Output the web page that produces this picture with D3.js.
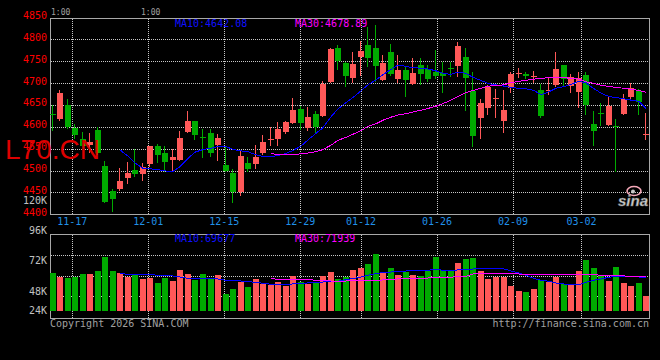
<!DOCTYPE html>
<html>
<head>
<meta charset="utf-8">
<script src="https://cdn.jsdelivr.net/npm/d3@7"></script>
<style>
    html, body { margin: 0; padding: 0; background: #000; }
    svg { display: block; }
    text { font-family: "DejaVu Sans Mono", monospace; font-size: 10px; }
</style>
</head>
<body>
<svg id="chart" width="660" height="360"></svg>
<script>
const dates = [
    '11-12', '11-13', '11-14', '11-17', '11-18', '11-19', '11-20', '11-21', '11-24', '11-25',
    '11-26', '11-27', '11-28', '12-01', '12-02', '12-03', '12-04', '12-05', '12-08', '12-09',
    '12-10', '12-11', '12-12', '12-15', '12-16', '12-17', '12-18', '12-19', '12-22', '12-23',
    '12-24', '12-25', '12-26', '12-29', '12-30', '12-31', '01-05', '01-06', '01-07', '01-08',
    '01-09', '01-12', '01-13', '01-14', '01-15', '01-16', '01-19', '01-20', '01-21', '01-22',
    '01-23', '01-26', '01-27', '01-28', '01-29', '01-30', '02-02', '02-03', '02-04', '02-05',
    '02-06', '02-09', '02-10', '02-11', '02-12', '02-13', '02-24', '02-25', '02-26', '02-27',
    '03-02', '03-03', '03-04', '03-05', '03-06', '03-09', '03-10', '03-11', '03-12', '03-13',
];
const open = [
    4629, 4618, 4650, 4597, 4571, 4559, 4593, 4510, 4453, 4458,
    4483, 4501, 4493, 4515, 4556, 4541, 4525, 4524, 4589, 4613,
    4577, 4586, 4558, 4513, 4494, 4450, 4518, 4515, 4541, 4571,
    4573, 4587, 4609, 4641, 4598, 4629, 4625, 4703, 4781, 4746,
    4712, 4760, 4787, 4781, 4707, 4771, 4709, 4730, 4698, 4741,
    4732, 4726, 4722, 4735, 4739, 4760, 4681, 4621, 4644, 4663,
    4614, 4688, 4722, 4721, 4714, 4684, 4681, 4696, 4741, 4693,
    4680, 4719, 4607, 4631, 4604, 4601, 4629, 4667, 4682, 4582,
];
const high = [
    4650, 4684, 4664, 4606, 4588, 4586, 4600, 4522, 4457, 4505,
    4520, 4549, 4517, 4556, 4561, 4555, 4549, 4590, 4636, 4613,
    4594, 4595, 4584, 4555, 4504, 4547, 4532, 4558, 4581, 4600,
    4610, 4613, 4666, 4648, 4645, 4635, 4705, 4781, 4788, 4749,
    4770, 4795, 4829, 4833, 4764, 4789, 4764, 4738, 4758, 4758,
    4741, 4776, 4749, 4749, 4793, 4779, 4726, 4663, 4696, 4687,
    4684, 4726, 4734, 4726, 4728, 4698, 4711, 4770, 4741, 4720,
    4726, 4726, 4635, 4655, 4669, 4618, 4675, 4700, 4687, 4632,
];
const low = [
    4593, 4616, 4598, 4575, 4551, 4543, 4537, 4427, 4408, 4456,
    4472, 4488, 4479, 4511, 4520, 4498, 4500, 4523, 4587, 4571,
    4532, 4534, 4524, 4498, 4429, 4444, 4498, 4505, 4537, 4558,
    4558, 4585, 4609, 4595, 4593, 4585, 4625, 4703, 4732, 4694,
    4703, 4718, 4738, 4705, 4707, 4718, 4703, 4671, 4698, 4697,
    4705, 4711, 4680, 4715, 4715, 4639, 4555, 4575, 4629, 4623,
    4587, 4679, 4713, 4711, 4703, 4623, 4675, 4693, 4696, 4680,
    4646, 4629, 4559, 4604, 4604, 4500, 4629, 4665, 4629, 4571,
];
const close = [
    4627, 4677, 4600, 4582, 4555, 4565, 4539, 4429, 4435, 4475,
    4494, 4492, 4507, 4556, 4536, 4520, 4531, 4574, 4613, 4582,
    4574, 4539, 4574, 4500, 4452, 4533, 4504, 4530, 4565, 4572,
    4595, 4611, 4638, 4609, 4622, 4600, 4698, 4778, 4750, 4717,
    4744, 4773, 4757, 4740, 4746, 4721, 4730, 4707, 4723, 4720,
    4709, 4717, 4717, 4733, 4785, 4711, 4578, 4655, 4690, 4665,
    4639, 4721, 4724, 4715, 4715, 4625, 4683, 4732, 4709, 4714,
    4711, 4650, 4591, 4629, 4648, 4599, 4664, 4689, 4656, 4584,
];
const volume = [
    78700, 70400, 68300, 70400, 76600, 76600, 82200, 111800, 82200, 78100,
    70400, 73900, 66300, 69200, 58000, 68300, 61500, 84300, 76600, 64200,
    76600, 67100, 73900, 34600, 44900, 60000, 49100, 65600, 56700, 54700,
    60000, 52600, 71800, 59400, 56700, 60000, 72500, 80100, 67100, 70400,
    84300, 89000, 97300, 117400, 78700, 89000, 73900, 80700, 73900, 72500,
    82800, 111800, 85700, 82800, 99400, 107000, 109700, 82200, 65600, 70400,
    70400, 51800, 41400, 39300, 44900, 65000, 60000, 70400, 56700, 55300,
    82200, 105000, 89000, 72500, 61500, 90500, 58000, 51100, 58000, 31100,
];
const ma10 = [
    null, null, null, null, null, null, null, null, null, 4547,
    4533, 4517, 4505, 4504, 4502, 4499, 4498, 4509, 4528, 4542,
    4548, 4551, 4555, 4555, 4548, 4545, 4543, 4536, 4532, 4532,
    4534, 4539, 4546, 4556, 4570, 4585, 4598, 4623, 4641, 4655,
    4667, 4682, 4696, 4707, 4719, 4731, 4741, 4738, 4735, 4734,
    4732, 4728, 4722, 4720, 4725, 4722, 4713, 4706, 4699, 4696,
    4693, 4690, 4688, 4687, 4683, 4673, 4680, 4688, 4692, 4697,
    4704, 4700, 4687, 4677, 4669, 4667, 4664, 4661, 4658, 4642.08,
];
const ma30 = [
    null, null, null, null, null, null, null, null, null, null,
    null, null, null, null, null, null, null, null, null, null,
    null, null, null, null, null, null, null, null, null, 4539,
    4536, 4536, 4537, 4538, 4540, 4543, 4548, 4558, 4569, 4576,
    4583, 4591, 4601, 4607, 4615, 4622, 4627, 4630, 4634, 4638,
    4642, 4647, 4653, 4661, 4669, 4678, 4683, 4688, 4693, 4694,
    4696, 4701, 4704, 4706, 4709, 4711, 4712, 4712, 4712, 4711,
    4709, 4703, 4699, 4695, 4692, 4690, 4688, 4686, 4683, 4678.89,
];
const volMa10 = [
    null, null, null, null, null, null, null, null, null, 77400,
    76000, 76000, 75300, 75300, 73900, 73300, 72500, 70400, 67700, 67100,
    67100, 67100, 66300, 63600, 62900, 62100, 60800, 59400, 57300, 55300,
    55300, 55300, 56000, 57300, 58000, 59400, 60000, 60800, 61500, 65000,
    67100, 70400, 73900, 77400, 79500, 80700, 82200, 82800, 83600, 84300,
    84300, 86300, 84300, 84300, 84900, 85700, 87000, 87800, 87800, 87800,
    87000, 82800, 78700, 73900, 67100, 63600, 61500, 58000, 55900, 53800,
    54700, 59400, 63600, 66300, 69800, 71800, 71800, 71200, 70400, 69677,
];
const volMa30 = [
    null, null, null, null, null, null, null, null, null, null,
    null, null, null, null, null, null, null, null, null, null,
    null, null, null, null, null, null, null, null, null, 67100,
    65600, 65000, 65000, 65000, 65000, 63600, 62100, 62100, 61500, 62100,
    62900, 62900, 63600, 63600, 64200, 65600, 66300, 66300, 67100, 67100,
    68300, 69200, 69200, 69800, 71800, 71800, 76600, 77400, 77400, 77400,
    77400, 77400, 76600, 76000, 76000, 76000, 76000, 76000, 76000, 76000,
    76000, 76000, 75300, 73900, 73300, 73300, 72500, 72000, 71900, 71939,
];
const priceTicks = [4850, 4800, 4750, 4700, 4650, 4600, 4550, 4500, 4450, 4400];
const volTicks = [120000, 96000, 72000, 48000, 24000];
const dateTicks = ['11-17', '12-01', '12-15', '12-29', '01-12', '01-26', '02-09', '03-02'];

const UP = '#ff5858';
const DOWN = '#00aa00';
const GRID = '#c8c8c8';
const FRAME = '#a8a8a8';

const svg = d3.select('#chart');
svg.append('rect').attr('width', 660).attr('height', 360).attr('fill', '#000');

const xBand = d3.scaleBand().domain(dates).range([49, 650]).paddingInner(0.2).paddingOuter(0.1);
// date grid lines run on their own slightly wider spacing in the original
const xGrid = d3.scaleLinear().domain([0, dates.length - 1]).range([49.5, 649.9]);
const yPrice = d3.scaleLinear().domain([4400, 4850]).range([214.3, 17.4]);
const yVol = d3.scaleLinear().domain([0, 160000]).range([311, 233.7]);
const yVolLabel = d3.scaleLinear().domain([48000, 120000]).range([291, 200]);
const yVolGrid = d3.scaleLinear().domain([0, 4]).range([317, 234.3]);

const px = (v) => Math.round(v) + 0.5;
const bx = (d) => Math.round(xBand(d));
const isUp = (i) => close[i] >= open[i];

// Grid
const grid = svg.append('g')
    .attr('stroke', GRID)
    .attr('stroke-dasharray', '1,1')
    .attr('shape-rendering', 'crispEdges');
grid.selectAll('.hp').data(priceTicks.slice(1, -1)).join('line')
    .attr('x1', 51).attr('x2', 649)
    .attr('y1', (d) => px(yPrice(d))).attr('y2', (d) => px(yPrice(d)));
grid.selectAll('.hv').data([1, 2, 3]).join('line')
    .attr('class', 'hv')
    .attr('x1', 51).attr('x2', 649)
    .attr('y1', (d) => px(yVolGrid(d))).attr('y2', (d) => px(yVolGrid(d)));
dateTicks.forEach((t) => {
    const x = px(xGrid(dates.indexOf(t)));
    grid.append('line').attr('x1', x).attr('x2', x).attr('y1', 19).attr('y2', 214);
    grid.append('line').attr('x1', x).attr('x2', x).attr('y1', 235).attr('y2', 318);
});

// Frames
const frame = svg.append('g')
    .attr('fill', 'none')
    .attr('stroke', FRAME)
    .attr('shape-rendering', 'crispEdges');
frame.append('path').attr('d', 'M50.5,214.5V18.5H649.5V214.5H50.5');
frame.append('path').attr('d', 'M50.5,318.5V234.5H649.5V318.5H50.5');

// Candles
const candles = svg.append('g').attr('shape-rendering', 'crispEdges');
dates.forEach((d, i) => {
    const color = isUp(i) ? UP : DOWN;
    const x = bx(d);
    const top = Math.round(yPrice(Math.max(open[i], close[i])));
    const bot = Math.round(yPrice(Math.min(open[i], close[i])));
    candles.append('line')
        .attr('x1', x + 2.5).attr('x2', x + 2.5)
        .attr('y1', Math.round(yPrice(high[i]))).attr('y2', Math.round(yPrice(low[i])) + 1)
        .attr('stroke', color);
    candles.append('rect')
        .attr('x', x).attr('width', 6)
        .attr('y', top).attr('height', Math.max(1, bot - top))
        .attr('fill', color);
});

// Volume bars
svg.append('g').attr('shape-rendering', 'crispEdges')
    .selectAll('rect').data(dates).join('rect')
    .attr('x', (d) => bx(d)).attr('width', 6)
    .attr('y', (d, i) => Math.round(yVol(volume[i])))
    .attr('height', (d, i) => 311 - Math.round(yVol(volume[i])))
    .attr('fill', (d, i) => (isUp(i) ? UP : DOWN));

// Moving averages
const maLine = (yScale) => d3.line()
    .defined((v) => v != null)
    .x((v, i) => Math.round(xBand(dates[i]) + 3))
    .y((v) => yScale(v));
const lines = svg.append('g').attr('fill', 'none').attr('stroke-width', 1).attr('shape-rendering', 'crispEdges');
lines.append('path').attr('d', maLine(yPrice)(ma10)).attr('stroke', '#0000ff');
lines.append('path').attr('d', maLine(yPrice)(ma30)).attr('stroke', '#ff00ff');
lines.append('path').attr('d', maLine(yVol)(volMa10)).attr('stroke', '#0000ff');
lines.append('path').attr('d', maLine(yVol)(volMa30)).attr('stroke', '#ff00ff');

// Axis labels
svg.append('g').selectAll('text').data(priceTicks).join('text')
    .attr('x', 47).attr('y', (d) => yPrice(d) + 1.5)
    .attr('text-anchor', 'end')
    .attr('fill', '#ff0000')
    .text((d) => d);
svg.append('g').selectAll('text').data(volTicks).join('text')
    .attr('x', 47).attr('y', (d) => Math.min(yVolLabel(d), 310.5) + 3.5)
    .attr('text-anchor', 'end')
    .attr('fill', '#c0c0c0')
    .text((d) => `${d / 1000}K`);
svg.append('g').selectAll('text').data(dateTicks).join('text')
    .attr('x', (d) => xGrid(dates.indexOf(d)))
    .attr('y', 224.5)
    .attr('text-anchor', 'middle')
    .attr('fill', '#2090e8')
    .text((d) => d);

// Top month marks
svg.append('text').attr('x', 51).attr('y', 15).attr('fill', '#a0a0a0')
    .style('font-size', '8px').text('1:00');
svg.append('text').attr('x', 141).attr('y', 15).attr('fill', '#a0a0a0')
    .style('font-size', '8px').text('1:00');

// MA legends
const fmt2 = d3.format('.2f');
svg.append('text').attr('x', 175).attr('y', 27).attr('fill', '#1010ff')
    .text(`MA10:${fmt2(ma10[ma10.length - 1])}`);
svg.append('text').attr('x', 295).attr('y', 27).attr('fill', '#ff00ff')
    .text(`MA30:${fmt2(ma30[ma30.length - 1])}`);
svg.append('text').attr('x', 175).attr('y', 242).attr('fill', '#1010ff')
    .text(`MA10:${volMa10[volMa10.length - 1]}`);
svg.append('text').attr('x', 295).attr('y', 242).attr('fill', '#ff00ff')
    .text(`MA30:${volMa30[volMa30.length - 1]}`);

// Footer
svg.append('text').attr('x', 50).attr('y', 327).attr('fill', '#a0a0a0').text('Copyright 2026 SINA.COM');
svg.append('text').attr('x', 649).attr('y', 327).attr('text-anchor', 'end').attr('fill', '#a0a0a0')
    .text('http://finance.sina.com.cn');

// Sina logo
const logo = svg.append('g');
logo.append('ellipse').attr('cx', 634).attr('cy', 191).attr('rx', 7).attr('ry', 4.5)
    .attr('fill', 'none').attr('stroke', '#f4a8b8').attr('stroke-width', 1.6);
logo.append('circle').attr('cx', 633).attr('cy', 191.5).attr('r', 2).attr('fill', '#c8c8c8');
logo.append('text').attr('x', 618).attr('y', 206)
    .style('font-family', '"Liberation Sans", sans-serif')
    .style('font-size', '15px').style('font-style', 'italic').style('font-weight', 'bold')
    .attr('fill', '#d0d0d0').attr('stroke', '#707070').attr('stroke-width', 0.5)
    .text('sina');

// Symbol watermark
svg.append('text').attr('x', 5).attr('y', 159)
    .style('font-family', '"Liberation Sans", sans-serif')
    .style('font-size', '28px')
    .attr('fill', '#dd0000')
    .text('L70.CN');
</script>
</body>
</html>
